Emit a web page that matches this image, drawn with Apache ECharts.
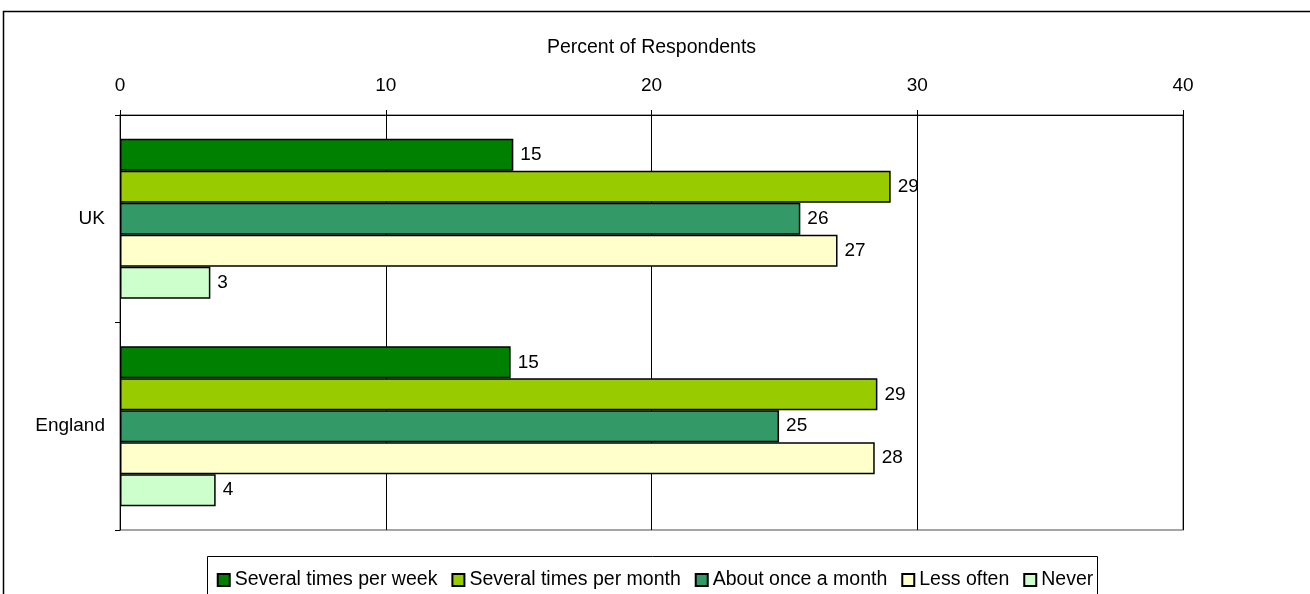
<!DOCTYPE html>
<html>
<head>
<meta charset="utf-8">
<script src="https://cdn.jsdelivr.net/npm/echarts@6/dist/echarts.min.js"></script>
<style>
  html, body { margin: 0; padding: 0; background: #fff; }
</style>
</head>
<body>
<div id="main" style="width: 1310px;height:594px;"></div>
<script>
// categories and series
var categories = ['UK', 'England']
var seriesNames = ['Several times per week', 'Several times per month', 'About once a month', 'Less often', 'Never']
var weekly = [14.8, 14.7]
var monthlySeveral = [29.0, 28.5]
var monthlyOnce = [25.6, 24.8]
var lessOften = [27.0, 28.4]
var never = [3.4, 3.6]
var xTicks = [0, 10, 20, 30, 40]

var colors = ['#008000', '#99CC00', '#339966', '#FFFFCC', '#CCFFCC']
var values = [weekly, monthlySeveral, monthlyOnce, lessOften, never]
var font = 'Liberation Sans, Arial, sans-serif'

var myChart = echarts.init(document.getElementById('main'))

var series = seriesNames.map(function(name, i) {
  return {
    name: name,
    type: 'bar',
    data: values[i],
    barGap: '0%',
    barCategoryGap: '23%',
    itemStyle: {
      color: colors[i],
      borderColor: '#000',
      borderWidth: 1.5
    },
    label: {
      show: true,
      position: 'right',
      distance: 7,
      color: '#000',
      fontSize: 19,
      fontFamily: font,
      formatter: function(p) { return Math.round(p.value) }
    }
  }
})

var option = {
  animation: false,
  color: colors,
  textStyle: { fontFamily: font },
  graphic: [
    {
      type: 'rect',
      shape: { x: 3.5, y: 11.5, width: 1400, height: 700 },
      style: { fill: 'none', stroke: '#000', lineWidth: 1.5 },
      silent: true
    },
    {
      type: 'rect',
      shape: { x: 207.5, y: 556.5, width: 890, height: 80 },
      style: { fill: 'none', stroke: '#000', lineWidth: 1 },
      silent: true
    }
  ],
  grid: {
    left: 120,
    right: 127,
    top: 115,
    bottom: 64,
    show: true,
    borderColor: '#888',
    borderWidth: 1.5
  },
  legend: {
    data: seriesNames,
    top: 565,
    left: 'center',
    itemWidth: 12,
    itemHeight: 12,
    itemGap: 14,
    icon: 'rect',
    textStyle: { fontSize: 19.5, color: '#000', fontFamily: font }
  },
  xAxis: {
    type: 'value',
    position: 'top',
    min: xTicks[0],
    max: xTicks[xTicks.length - 1],
    interval: 10,
    name: 'Percent of Respondents',
    nameLocation: 'middle',
    nameGap: 57,
    nameTextStyle: { fontSize: 19.5, color: '#000', fontFamily: font },
    axisLine: { show: true, lineStyle: { color: '#000', width: 1 } },
    axisTick: { show: true, length: 5, lineStyle: { color: '#000' } },
    axisLabel: { fontSize: 19, color: '#000', margin: 20, fontFamily: font },
    splitLine: { show: true, lineStyle: { color: '#000', width: 1 } }
  },
  yAxis: {
    type: 'category',
    inverse: true,
    data: categories,
    axisLine: { show: true, lineStyle: { color: '#000', width: 1 } },
    axisTick: { show: true, length: 5, lineStyle: { color: '#000' } },
    axisLabel: { fontSize: 19, color: '#000', margin: 15, fontFamily: font }
  },
  series: series
}

myChart.setOption(option)
</script>
</body>
</html>
